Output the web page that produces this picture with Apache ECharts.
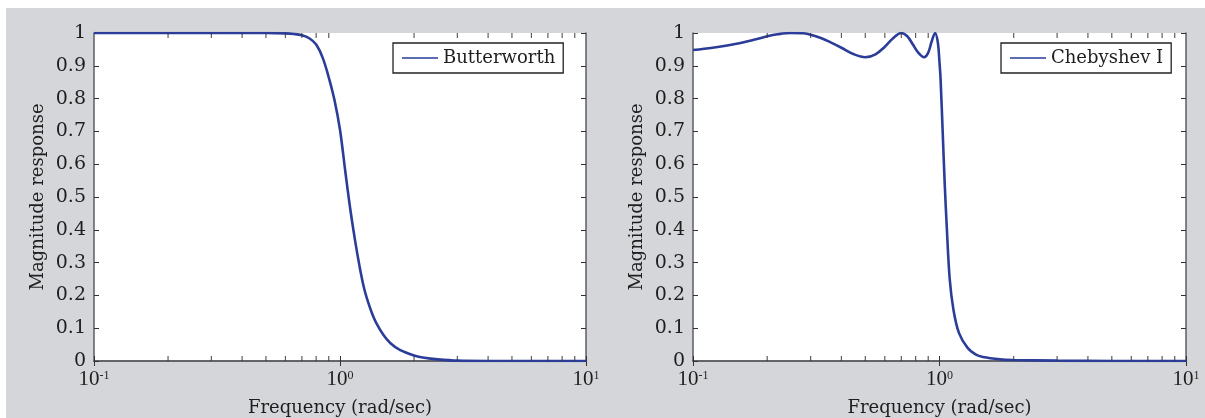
<!DOCTYPE html>
<html><head><meta charset="utf-8">
<script src="https://cdn.jsdelivr.net/npm/echarts@6/dist/echarts.min.js"></script>
<style>html,body{margin:0;padding:0;background:#fff}#c{width:1205px;height:418px}</style>
</head><body><div id="c"></div>
<script>
// Butterworth magnitude response: [frequency (rad/sec), magnitude]
const butterFreq = [0.1, 0.2, 0.3, 0.4, 0.5, 0.6, 0.65, 0.7, 0.75, 0.8, 0.85, 0.9, 0.95, 1.0, 1.05, 1.1, 1.15, 1.2, 1.25, 1.3, 1.35, 1.4, 1.5, 1.6, 1.75, 2.0, 2.2, 2.5, 3.0, 4.0, 6.0, 10.0];
const butterMag  = [1, 1, 1, 1, 1, 0.999, 0.997, 0.993, 0.984, 0.965, 0.925, 0.865, 0.795, 0.705, 0.58, 0.465, 0.37, 0.29, 0.225, 0.18, 0.145, 0.118, 0.08, 0.055, 0.034, 0.017, 0.01, 0.005, 0.001, 0, 0, 0];
// Chebyshev I magnitude response
const chebyFreq = [0.1, 0.12, 0.15, 0.18, 0.2, 0.22, 0.25, 0.28, 0.3, 0.33, 0.36, 0.4, 0.45, 0.5, 0.55, 0.6, 0.65, 0.7, 0.74, 0.78, 0.82, 0.866, 0.9, 0.93, 0.96, 0.985, 1.0, 1.01, 1.03, 1.05, 1.07, 1.1, 1.14, 1.2, 1.3, 1.4, 1.5, 1.76, 2.0, 3.0, 5.0, 10.0];
const chebyMag  = [0.948, 0.955, 0.967, 0.981, 0.99, 0.996, 1.0, 0.999, 0.995, 0.985, 0.972, 0.955, 0.935, 0.926, 0.935, 0.958, 0.985, 1.0, 0.99, 0.965, 0.94, 0.926, 0.94, 0.975, 1.0, 0.97, 0.91, 0.86, 0.70, 0.54, 0.41, 0.25, 0.155, 0.085, 0.04, 0.02, 0.012, 0.005, 0.003, 0.001, 0, 0];
const minorTickFreq = [0.2, 0.3, 0.4, 0.5, 0.6, 0.7, 0.8, 0.9, 2, 3, 4, 5, 6, 7, 8, 9];
const xTickLabels = {'0.1': '-1', '1': '0', '10': '1'};
const legendNames = ['Butterworth', 'Chebyshev I'];
const xName = 'Frequency (rad/sec)';
const yName = 'Magnitude response';

const FONT = 'DejaVu Serif';
const TFONT = 'Liberation Serif';
const TXT = '#1e1e1e';
const AX = '#5a5e63';
const LINE = '#2b3d98';

function pairs(xs, ys) { return xs.map((x, i) => [x, ys[i]]); }

const grids = [
  {left: 94, top: 33, width: 492, height: 328},
  {left: 693, top: 33, width: 493, height: 328}
];

const xAxes = [], yAxes = [], series = [], legends = [];
grids.forEach((g, i) => {
  g.show = true; g.backgroundColor = '#fff'; g.borderWidth = 0;
  g.containLabel = false; g.outerBoundsMode = 'none';
  xAxes.push({
    type: 'log', logBase: 10, min: 0.1, max: 10, gridIndex: i, position: 'bottom',
    name: xName, nameLocation: 'middle', nameGap: 38,
    nameTextStyle: {fontFamily: FONT, fontSize: 18, color: TXT},
    axisLine: {show: true, lineStyle: {color: AX, width: 1.5}},
    axisTick: {show: true, inside: true, length: 5, lineStyle: {color: '#333'}},
    splitLine: {show: false},
    axisLabel: {
      margin: 9,
      formatter: v => { const k = String(+v.toPrecision(3)); return xTickLabels[k] !== undefined ? '{b|10}{s|' + xTickLabels[k] + '}' : ''; },
      rich: {
        b: {fontFamily: TFONT, fontSize: 21, color: TXT, lineHeight: 20, verticalAlign: 'bottom'},
        s: {fontFamily: TFONT, fontSize: 12, color: TXT, lineHeight: 20, verticalAlign: 'top'}
      }
    }
  });
  xAxes.push({
    type: 'log', logBase: 10, min: 0.1, max: 10, gridIndex: i, position: 'top',
    axisLine: {show: true, lineStyle: {color: AX, width: 1.5}},
    axisTick: {show: true, inside: true, length: 5, lineStyle: {color: '#333'}},
    axisLabel: {show: false}, splitLine: {show: false}
  });
  yAxes.push({
    type: 'value', min: 0, max: 1, interval: 0.1, gridIndex: i, position: 'left',
    name: yName, nameLocation: 'middle', nameGap: 47,
    nameTextStyle: {fontFamily: FONT, fontSize: 18, color: TXT},
    axisLine: {show: true, lineStyle: {color: AX, width: 1.5}},
    axisTick: {show: true, inside: true, length: 5, lineStyle: {color: '#333'}},
    splitLine: {show: false},
    axisLabel: {margin: 8, fontFamily: FONT, fontSize: 19, color: TXT}
  });
  yAxes.push({
    type: 'value', min: 0, max: 1, interval: 0.1, gridIndex: i, position: 'right',
    axisLine: {show: true, lineStyle: {color: AX, width: 1.5}},
    axisTick: {show: true, inside: true, length: 5, lineStyle: {color: '#333'}},
    axisLabel: {show: false}, splitLine: {show: false}
  });
  const data = i === 0 ? pairs(butterFreq, butterMag) : pairs(chebyFreq, chebyMag);
  series.push({
    type: 'line', name: legendNames[i], xAxisIndex: i * 2, yAxisIndex: i * 2,
    data: data, smooth: 0.35, symbol: 'none', lineStyle: {color: LINE, width: 2.6},
    itemStyle: {color: LINE}, z: 5
  });
  series.push({
    type: 'scatter', xAxisIndex: i * 2, yAxisIndex: i * 2, silent: true, clip: false,
    data: minorTickFreq.map(f => [f, 0]), symbol: 'rect', symbolSize: [1.2, 5], symbolOffset: [0, -2.5],
    itemStyle: {color: '#333'}, z: 6
  });
  series.push({
    type: 'scatter', xAxisIndex: i * 2, yAxisIndex: i * 2, silent: true, clip: false,
    data: minorTickFreq.map(f => [f, 1]), symbol: 'rect', symbolSize: [1.2, 5], symbolOffset: [0, 2.5],
    itemStyle: {color: '#333'}, z: 6
  });
  legends.push({
    data: [legendNames[i]],
    left: i === 0 ? 393 : 1001, top: 43,
    backgroundColor: '#fff', borderColor: '#222', borderWidth: 1.3, borderRadius: 0,
    padding: [6, 8, 6, 9], itemWidth: 36, itemHeight: 2, icon: 'rect',
    itemStyle: {color: '#5a6cb2'},
    textStyle: {fontFamily: FONT, fontSize: 18, color: TXT},
    selectedMode: false
  });
});

const chart = echarts.init(document.getElementById('c'), null, {renderer: 'canvas'});
chart.setOption({
  animation: false,
  backgroundColor: '#fff',
  graphic: [{type: 'rect', shape: {x: 6, y: 8, width: 1199, height: 410}, style: {fill: '#d4d6d9'}, z: -100, silent: true}],
  grid: grids, xAxis: xAxes, yAxis: yAxes, series: series, legend: legends
});
</script></body></html>
